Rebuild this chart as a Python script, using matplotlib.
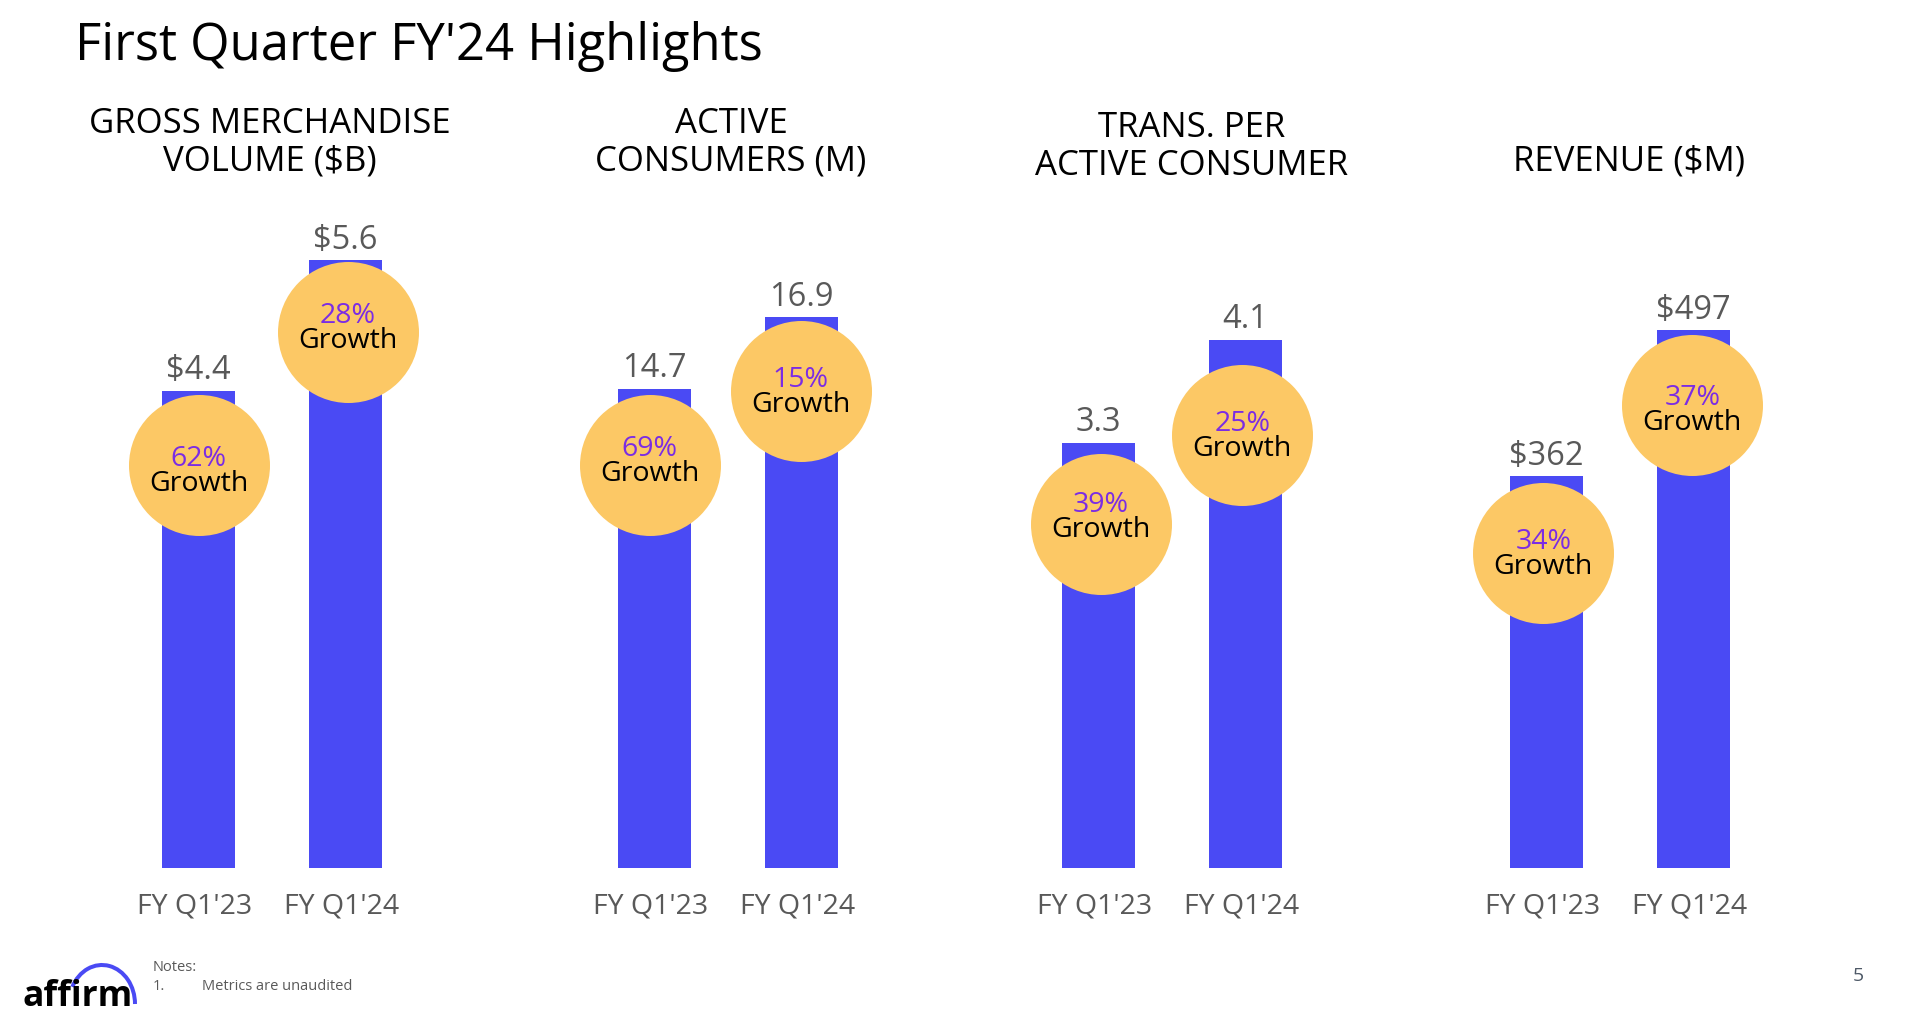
import matplotlib
matplotlib.use("Agg")
import matplotlib.pyplot as plt
import matplotlib.transforms as mtransforms
from matplotlib.patches import Arc

# ---------------- data ----------------
periods = ["FY Q1'23", "FY Q1'24"]
panel_titles = [
    ["GROSS MERCHANDISE", "VOLUME ($B)"],
    ["ACTIVE", "CONSUMERS (M)"],
    ["TRANS. PER", "ACTIVE CONSUMER"],
    ["REVENUE ($M)"],
]
gmv = [4.4, 5.6]
active_consumers = [14.7, 16.9]
trans_per_consumer = [3.3, 4.1]
revenue = [362, 497]
gmv_labels = ["$4.4", "$5.6"]
consumer_labels = ["14.7", "16.9"]
trans_labels = ["3.3", "4.1"]
revenue_labels = ["$362", "$497"]
gmv_growth = ["62%", "28%"]
consumer_growth = ["69%", "15%"]
trans_growth = ["39%", "25%"]
revenue_growth = ["34%", "37%"]

series = [gmv, active_consumers, trans_per_consumer, revenue]
value_labels = [gmv_labels, consumer_labels, trans_labels, revenue_labels]
growth_labels = [gmv_growth, consumer_growth, trans_growth, revenue_growth]

# ---------------- layout / style ----------------
W, H = 1906, 1028
DPI = 100
FONT = ["Open Sans", "DejaVu Sans"]
BAR_C = "#4A4AF4"
CIRCLE_C = "#FCC865"
PCT_C = "#7B2CE4"
GREY = "#595959"

first_bar_px = [198.5, 654.5, 1098.5, 1546.5]
bar_step_px = 147.0
bar_w_px = 73.0
ax_bottom_px = 867.5
ax_top_px = 150.0
ylims = [6.619, 22.04, 5.575, 663.7]
# circle centre offsets from bar top (px): (dx, dy down)
circle_off = [[(0.2, 74), (2.2, 72)],
              [(-5, 76.3), (-0.8, 73.5)],
              [(2.2, 81), (-3.2, 95)],
              [(-3.2, 77.3), (-1.2, 74.7)]]
# baseline of percentage text relative to circle centre (px, down positive)
pct_base = [[1, -9.3], [-9.3, -3.8], [-12, -3.7], [-4.3, 0.3]]
line_gap = 25
circle_r_px = 70.5
title_cx = [270, 731, 1192, 1629]
title_base = [[133, 171], [133, 171], [137, 175], [171]]
tick_dx_px = -4

plt.rcParams["font.family"] = FONT
fig = plt.figure(figsize=(W / DPI, H / DPI), dpi=DPI)
fig.patch.set_facecolor("white")


def fx(x):
    return x / W


def fy(y):
    return 1 - y / H


pt = 72.0 / DPI  # points per pixel

for k in range(4):
    left_px = first_bar_px[k] - bar_step_px
    ax = fig.add_axes([fx(left_px), fy(ax_bottom_px),
                       3 * bar_step_px / W, (ax_bottom_px - ax_top_px) / H])
    ax.set_xlim(-1, 2)
    ax.set_ylim(0, ylims[k])
    ax.set_facecolor("none")
    for s in ax.spines.values():
        s.set_visible(False)
    ax.set_yticks([])
    xs = [0, 1]
    ax.bar(xs, series[k], width=bar_w_px / bar_step_px, color=BAR_C, zorder=2)
    ax.set_xticks(xs, labels=periods)
    ax.tick_params(axis="x", length=0, pad=(914 - ax_bottom_px) * pt,
                   labelsize=20.5, labelcolor=GREY)
    shift = mtransforms.ScaledTranslation(tick_dx_px / DPI, 0, fig.dpi_scale_trans)
    for t in ax.get_xticklabels():
        t.set_verticalalignment("baseline")
        t.set_fontfamily(FONT)
        t.set_transform(t.get_transform() + shift)

    for i in xs:
        v = series[k][i]
        ax.annotate(value_labels[k][i], (i, v), xytext=(0, 11.5 * pt),
                    textcoords="offset points", ha="center", va="baseline",
                    fontsize=23.5, color=GREY, zorder=3)
        dx, dy = circle_off[k][i]
        tr = ax.transData + mtransforms.ScaledTranslation(dx / DPI, -dy / DPI,
                                                          fig.dpi_scale_trans)
        ax.scatter([i], [v], s=(2 * circle_r_px * pt) ** 2, color=CIRCLE_C,
                   linewidths=0, transform=tr, zorder=4, clip_on=False)
        pb = pct_base[k][i]
        ax.annotate(growth_labels[k][i], (i, v),
                    xytext=(dx * pt, -(dy + pb) * pt),
                    textcoords="offset points", ha="center", va="baseline",
                    fontsize=20.5, color=PCT_C, zorder=5)
        ax.annotate("Growth", (i, v),
                    xytext=(dx * pt, -(dy + pb + line_gap) * pt),
                    textcoords="offset points", ha="center", va="baseline",
                    fontsize=20.5, color="black", zorder=5)

    for line, yb in zip(panel_titles[k], title_base[k]):
        fig.text(fx(title_cx[k]), fy(yb), line, ha="center", va="baseline",
                 fontsize=25, color="black")

# main title
fig.text(fx(75), fy(60), "First Quarter FY'24 Highlights", ha="left",
         va="baseline", fontsize=36.5, color="black")

# footer: logo
fig.text(fx(23), fy(1006), "affirm", ha="left", va="baseline", fontsize=25.5,
         fontweight="bold", color="black")
arc = Arc((102, H - 1004), 66, 78, theta1=0, theta2=150, transform=None,
          color=BAR_C, lw=4 * pt)
fig.add_artist(arc)

# notes
fig.text(fx(153), fy(971), "Notes:", ha="left", va="baseline", fontsize=10.5,
         color=GREY)
fig.text(fx(153), fy(990), "1.", ha="left", va="baseline", fontsize=10.5,
         color=GREY)
fig.text(fx(202), fy(990), "Metrics are unaudited", ha="left", va="baseline",
         fontsize=10.5, color=GREY)
fig.text(fx(1858), fy(981), "5", ha="center", va="baseline", fontsize=14,
         color="#4d5866")

fig.savefig("out.png", dpi=DPI, facecolor="white")
